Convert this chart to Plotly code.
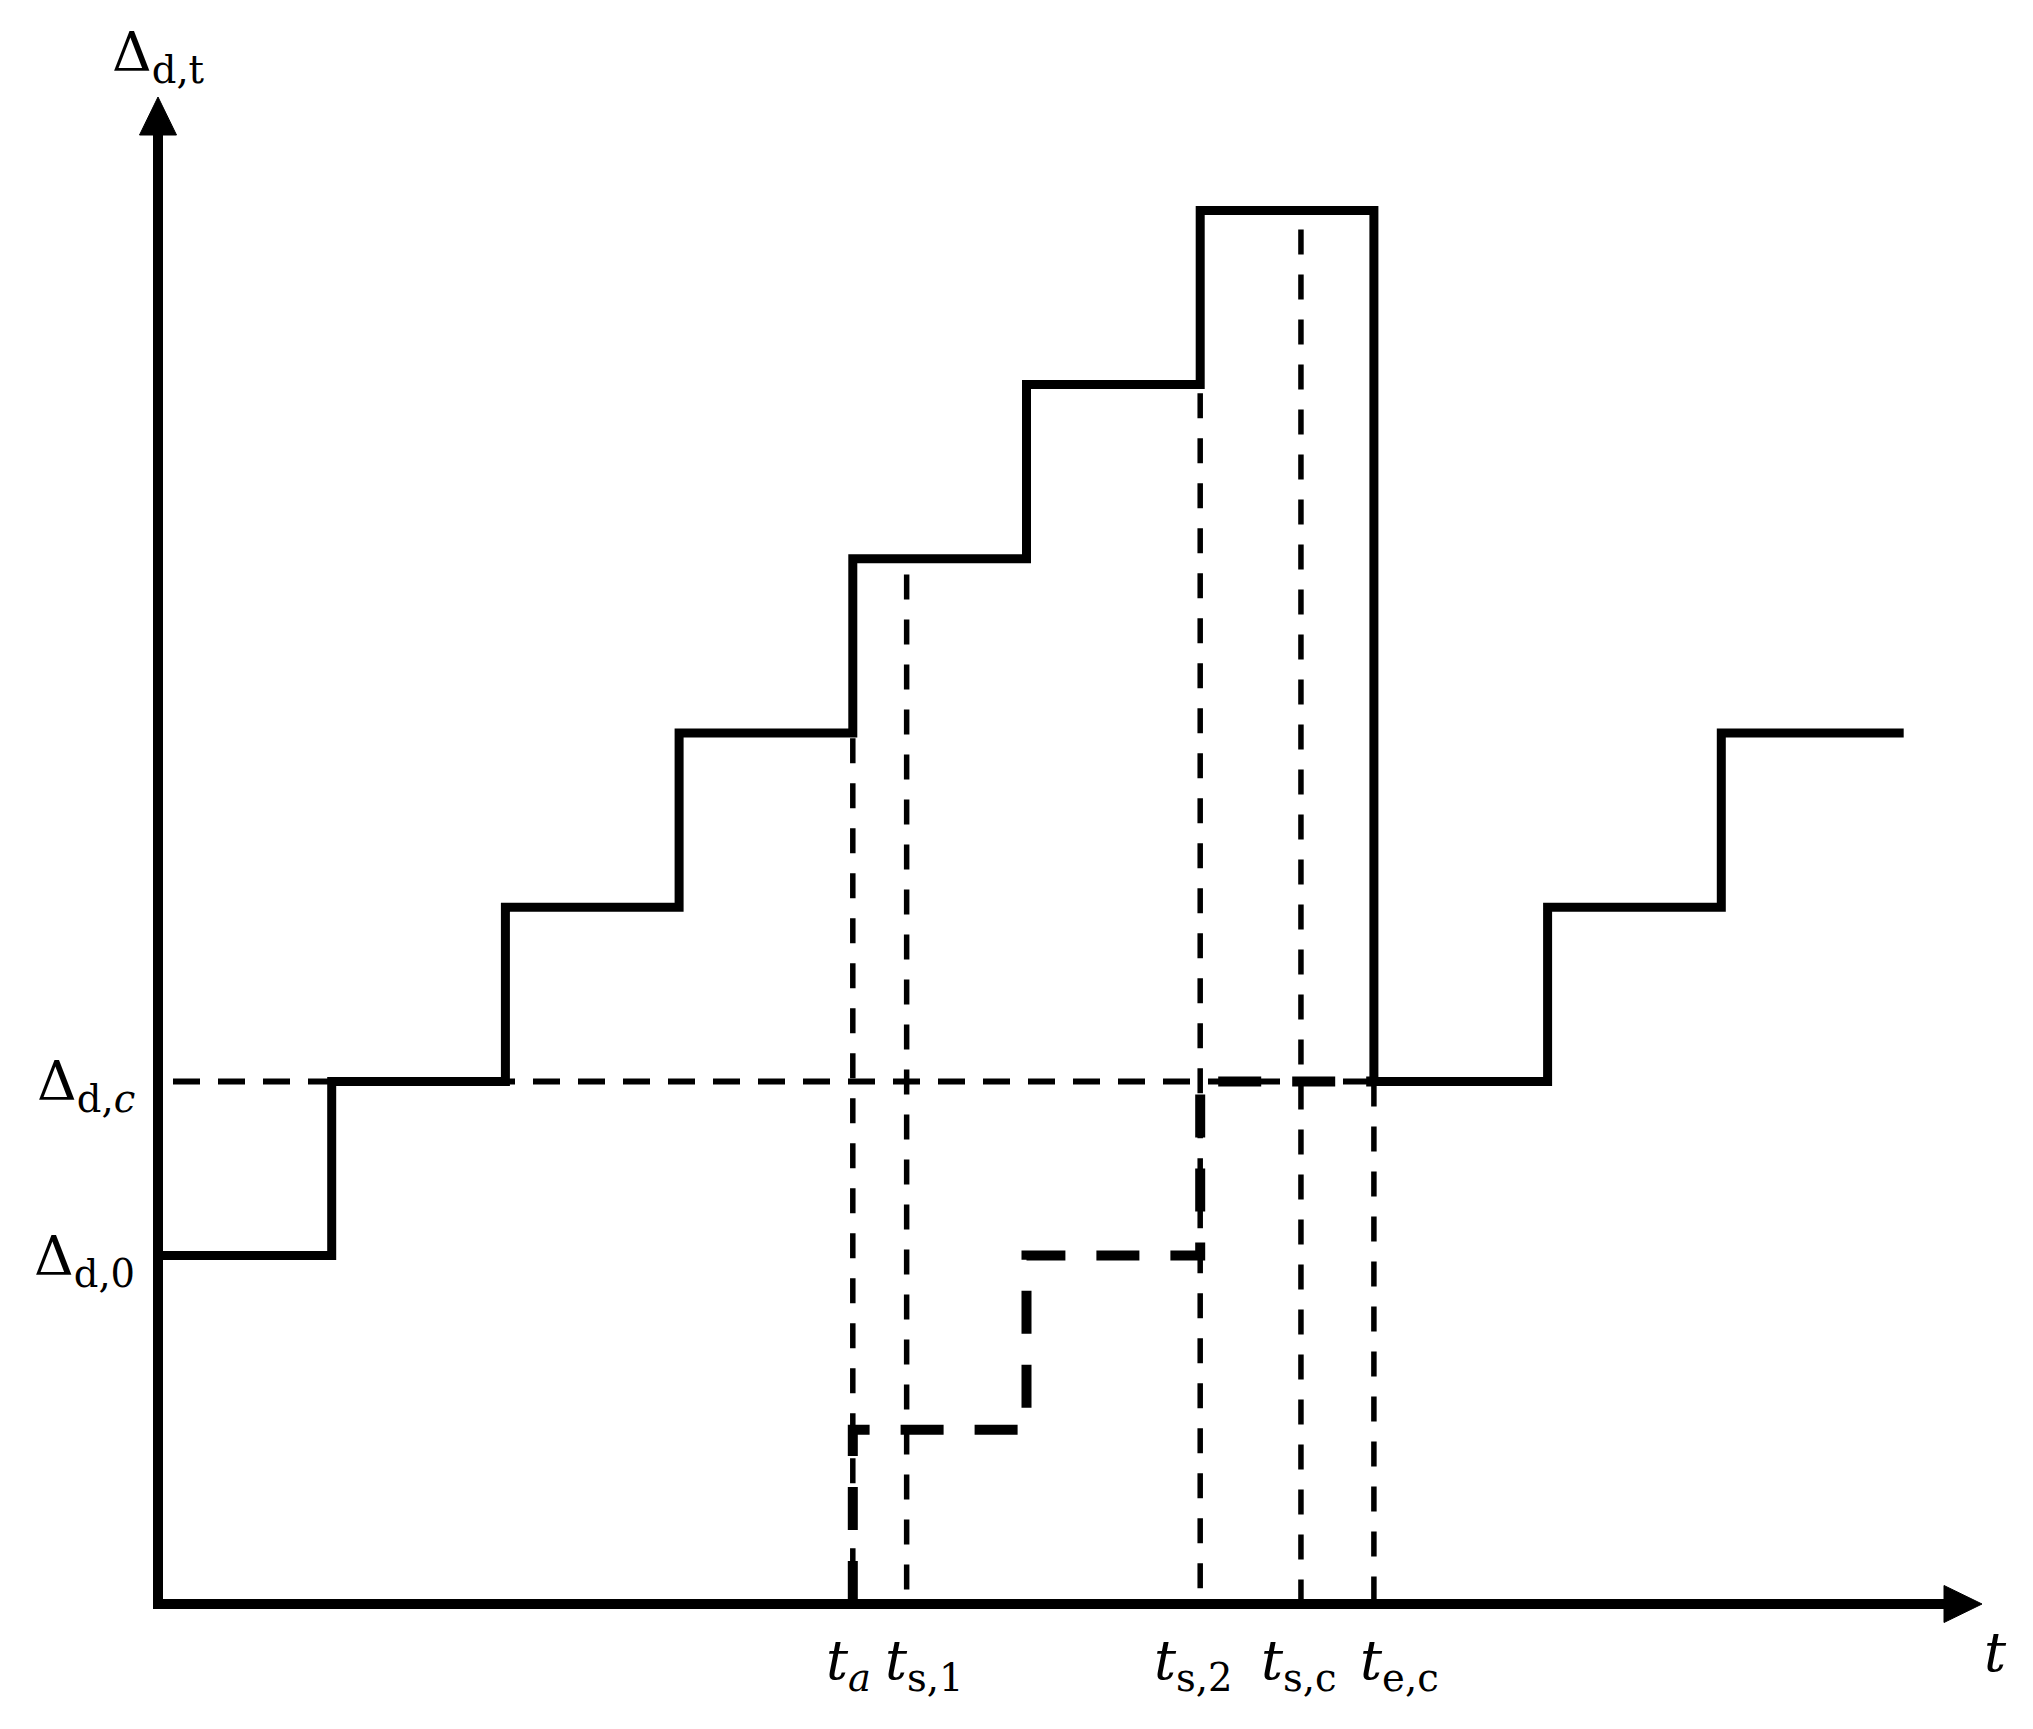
import plotly.graph_objects as go

# ---------------- data ----------------
solid_t = [0, 1, 2, 3, 4, 5, 6, 7, 8, 9, 10.05]
solid_level = [2, 3, 4, 5, 6, 7, 8, 3, 4, 5, 5]

thick_t = [4, 4, 5, 6, 7]
thick_level = [0, 1, 2, 3, 3]

event_labels = ["<i>t</i><sub><i>a</i></sub>", "<i>t</i><sub>s,1</sub>",
                "<i>t</i><sub>s,2</sub>", "<i>t</i><sub>s,c</sub>", "<i>t</i><sub>e,c</sub>"]
event_t = [4, 4.31, 6, 6.58, 7]
event_top = [4.97, 5.91, 6.95, 7.89, 3]
event_label_center_px = [848, 924, 1193, 1299, 1399]

level_labels = ["Δ<sub>d,<i>c</i></sub>", "Δ<sub>d,0</sub>"]
level_values = [3, 2]
crit_level = 3
crit_end = 7

# ---------------- geometry ----------------
OFF = 8  # page body margin
W, H = 2033 - 2 * OFF, 1729 - 2 * OFF
X0PX, Y0PX = 158 - OFF, 1604 - OFF
UX, UY = 173.7, 174.2
xr = [-X0PX / UX, (W - X0PX) / UX]
yr = [(Y0PX - H) / UY, Y0PX / UY]

def xd(px_ref):
    return (px_ref - OFF - X0PX) / UX

def yd(py_ref):
    return (Y0PX - (py_ref - OFF)) / UY

def dx(px):
    return px / UX

def dy(px):
    return px / UY

y_axis_top = yd(97)
x_axis_end = xd(1982)
arrow_len, arrow_half = 38, 18.5

fig = go.Figure()

# axes
fig.add_trace(go.Scatter(x=[0, 0, x_axis_end - dx(arrow_len)],
                         y=[y_axis_top - dy(arrow_len), 0, 0],
                         mode="lines", line=dict(color="black", width=10),
                         hoverinfo="skip"))
fig.add_trace(go.Scatter(x=[-dx(arrow_half), dx(arrow_half), 0, -dx(arrow_half)],
                         y=[y_axis_top - dy(arrow_len)] * 2 + [y_axis_top, y_axis_top - dy(arrow_len)],
                         mode="lines", fill="toself", fillcolor="black",
                         line=dict(color="black", width=1), hoverinfo="skip"))
fig.add_trace(go.Scatter(x=[x_axis_end - dx(arrow_len)] * 2 + [x_axis_end, x_axis_end - dx(arrow_len)],
                         y=[-dy(arrow_half), dy(arrow_half), 0, -dy(arrow_half)],
                         mode="lines", fill="toself", fillcolor="black",
                         line=dict(color="black", width=1), hoverinfo="skip"))

# thin dashed guide lines
thin = dict(color="black", width=5.5, dash="25px,20px")
fig.add_trace(go.Scatter(x=[xd(173), crit_end], y=[crit_level, crit_level], mode="lines",
                         line=dict(color="black", width=6, dash="27px,18px"), hoverinfo="skip"))
for t, top in zip(event_t, event_top):
    fig.add_trace(go.Scatter(x=[t, t], y=[top, 0], mode="lines", line=thin, hoverinfo="skip"))

# thick dashed staircase
fig.add_trace(go.Scatter(x=thick_t, y=thick_level, mode="lines", line_shape="hv",
                         line=dict(color="black", width=10, dash="43px,31px"), hoverinfo="skip"))

# solid staircase
fig.add_trace(go.Scatter(x=solid_t, y=solid_level, mode="lines", line_shape="hv",
                         line=dict(color="black", width=9), hoverinfo="skip"))

font = dict(family="DejaVu Serif", size=55, color="black")
ann = []
ann.append(dict(x=xd(158), y=yd(56), text="Δ<sub>d,t</sub>", showarrow=False,
                xanchor="center", yanchor="middle", font=font))
for lab, lv in zip(level_labels, level_values):
    ann.append(dict(x=xd(137), y=lv, text=lab, showarrow=False,
                    xanchor="right", yanchor="middle", font=font, yshift=-4))
for lab, cx in zip(event_labels, event_label_center_px):
    ann.append(dict(x=xd(cx), y=yd(1664), text=lab, showarrow=False,
                    xanchor="center", yanchor="middle", font=font))
ann.append(dict(x=xd(1995), y=yd(1652), text="<i>t</i>", showarrow=False,
                xanchor="center", yanchor="middle", font=font))

fig.update_layout(
    width=W, height=H, autosize=False,
    margin=dict(l=0, r=0, t=0, b=0),
    paper_bgcolor="white", plot_bgcolor="white",
    showlegend=False,
    xaxis=dict(range=xr, visible=False, fixedrange=True),
    yaxis=dict(range=yr, visible=False, fixedrange=True),
    annotations=ann,
)

fig.write_html("out.html")
